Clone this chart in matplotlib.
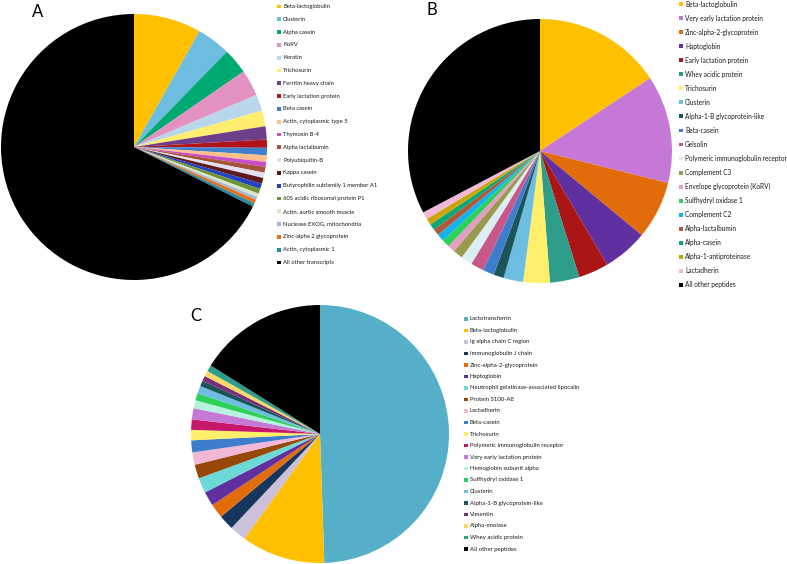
import matplotlib
matplotlib.use("Agg")
import matplotlib.pyplot as plt
from matplotlib.patches import Rectangle

W, H = 787, 564

# Panel A - transcripts
labels_a = ["Beta-lactoglobulin", "Clusterin", "Alpha casein", "KoRV", "Keratin", "Trichosurin",
            "Ferritin heavy chain", "Early lactation protein", "Beta casein", "Actin, cytoplasmic type 5",
            "Thymosin B-4", "Alpha lactalbumin", "Polyubiquitin-B", "Kappa casein",
            "Butyrophilin subfamily 1 member A1", "60S acidic ribosomal protein P1",
            "Actin, aortic smooth muscle", "Nuclease EXOG, mitochondria", "Zinc-alpha 2 glycoprotein",
            "Actin, cytoplasmic 1", "All other transcripts"]
values_a = [8.2, 4.1, 3.1, 3.2, 2.0, 1.9, 1.6, 1.0, 0.9, 0.8, 0.6, 0.7, 0.65, 0.7, 0.65, 0.6,
            0.45, 0.35, 0.45, 0.45, 67.6]
colors_a = ["#FFC000", "#6CBDE0", "#00A971", "#E391C1", "#B8D7EA", "#FFED6F", "#6F3E8B", "#B0141A",
            "#3F7FCC", "#FCBE8C", "#C84BC8", "#A7523A", "#E2E0EE", "#5E1A1A", "#2342C2", "#6E9435",
            "#D9E8C4", "#9DB8DC", "#E86F14", "#2A8A9E", "#000000"]

# Panel B - peptides
labels_b = ["Beta-lactoglobulin", "Very early lactation protein", "Zinc-alpha-2-glycoprotein",
            "Haptoglobin", "Early lactation protein", "Whey acidic protein", "Trichosurin", "Clusterin",
            "Alpha-1-B glycoprotein-like", "Beta-casein", "Gelsolin", "Polymeric immunoglobulin receptor",
            "Complement C3", "Envelope glycoprotein (KoRV)", "Sulfhydryl oxidase 1", "Complement C2",
            "Alpha-lactalbumin", "Alpha-casein", "Alpha-1-antiproteinase", "Lactadherin",
            "All other peptides"]
values_b = [15.7, 13.2, 7.1, 5.5, 3.7, 3.6, 3.25, 2.4, 1.25, 1.4, 1.6, 1.4, 1.2, 0.9, 0.95, 0.9,
            0.8, 0.75, 0.8, 0.9, 32.7]
colors_b = ["#FFC000", "#C678D6", "#E36C0A", "#6030A0", "#AA1616", "#2E9E8A", "#FFEF6A", "#6CBDE0",
            "#1B5559", "#3D7DCC", "#C9588A", "#DDEEF3", "#989A4E", "#E79CC6", "#2ED158", "#12B2EC",
            "#AE5A3A", "#07A777", "#CAA50A", "#F1B8D8", "#000000"]

# Panel C - peptides
labels_c = ["Lactotransferrin", "Beta-lactoglobulin", "Ig alpha chain C region", "Immunoglobulin J chain",
            "Zinc-alpha-2-glycoprotein", "Haptoglobin", "Neutrophil gelatinase-associated lipocalin",
            "Protein S100-A8", "Lactadherin", "Beta-casein", "Trichosurin",
            "Polymeric immunoglobulin receptor", "Very early lactation protein", "Hemoglobin subunit alpha",
            "Sulfhydryl oxidase 1", "Clusterin", "Alpha-1-B glycoprotein-like", "Vimentin",
            "Alpha-enolase", "Whey acidic protein", "All other peptides"]
values_c = [49.5, 10.5, 2.06, 1.9, 1.8, 1.8, 1.9, 1.75, 1.55, 1.5, 1.3, 1.3, 1.4, 1.0, 0.9, 0.95,
            0.7, 0.65, 0.7, 0.8, 16.1]
colors_c = ["#56AFC8", "#FFC000", "#CCC0DB", "#17365D", "#E36C0A", "#6030A0", "#6DD8D8", "#974806",
            "#F2B8D8", "#3D7DCC", "#FFEF6A", "#C7176B", "#C678D6", "#B5F2DF", "#2ED158", "#6CBDE0",
            "#1B5559", "#7A2E7A", "#FFD966", "#2E9E8A", "#000000"]

plt.rcParams['font.family'] = ['Lato', 'DejaVu Sans']

fig = plt.figure(figsize=(W / 100, H / 100), dpi=100)


def pie_panel(cx, cy, r, values, colors):
    ax = fig.add_axes([(cx - r) / W, (H - cy - r) / H, 2 * r / W, 2 * r / H])
    ax.pie(values, colors=colors, startangle=90, counterclock=False,
           wedgeprops={'linewidth': 0})
    ax.set_xlim(-1, 1)
    ax.set_ylim(-1, 1)
    ax.set_aspect('equal')
    return ax


def legend_panel(x, y0, step, labels, colors, fs, box=3.8):
    for i, (lab, col) in enumerate(zip(labels, colors)):
        y = y0 + i * step
        fig.add_artist(Rectangle(((x - box / 2) / W, (H - y - box / 2) / H), box / W, box / H,
                                 facecolor=col, edgecolor='none', transform=fig.transFigure))
        fig.text((x + 4) / W, (H - y) / H, lab, fontsize=fs, va='center', ha='left', color='#1a1a1a')


pie_panel(134, 147, 133, values_a, colors_a)
legend_panel(279, 6.5, 12.8, labels_a, colors_a, 4.2)
fig.text(38 / W, 1 - 12 / H, "A", fontsize=12, ha='center', va='center')

pie_panel(540, 151, 132, values_b, colors_b)
legend_panel(681, 4, 14.05, labels_b, colors_b, 4.7)
fig.text(432 / W, 1 - 10 / H, "B", fontsize=12, ha='center', va='center')

pie_panel(320, 434, 129, values_c, colors_c)
legend_panel(466, 319, 11.5, labels_c, colors_c, 4.3)
fig.text(196 / W, 1 - 316 / H, "C", fontsize=12, ha='center', va='center')

fig.savefig("out.png", dpi=100)
